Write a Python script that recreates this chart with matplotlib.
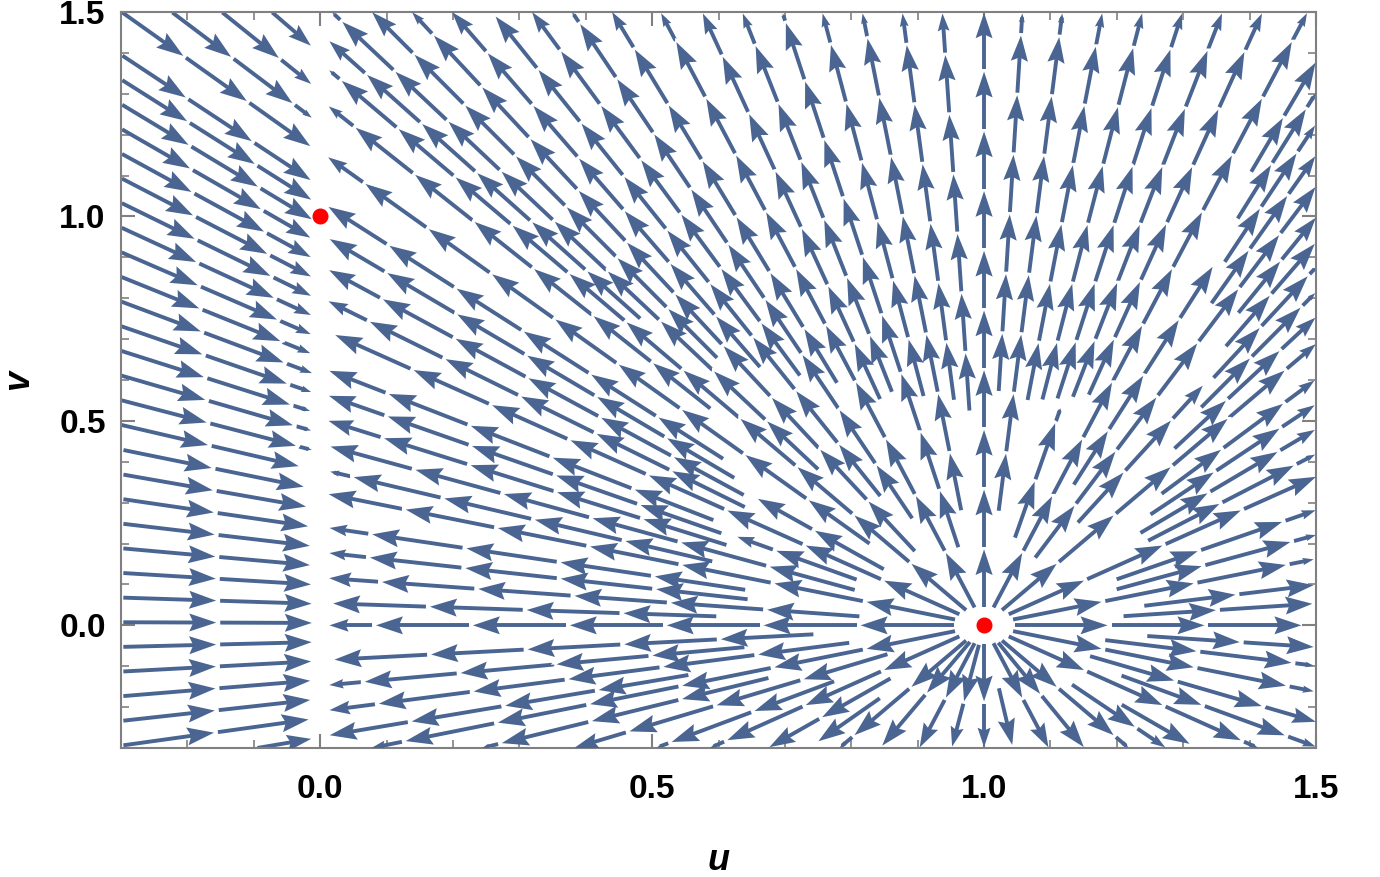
import numpy as np
import matplotlib
matplotlib.use('Agg')
import matplotlib.pyplot as plt
from matplotlib.collections import LineCollection, PolyCollection
from matplotlib.ticker import MultipleLocator

plt.rcParams['font.family'] = ['Liberation Sans', 'DejaVu Sans']

# plot window and ticks
u_range = [-0.3, 1.5]
v_range = [-0.3, 1.5]
tick_vals = [0.0, 0.5, 1.0, 1.5]
tick_labels = ['0.0', '0.5', '1.0', '1.5']

# equilibria marked in red
fixed_u = [0.0, 1.0]
fixed_v = [1.0, 0.0]

stream_color = '#4a6591'
frame_color = '#808080'


# direction field of the system
def field(u, v):
    return u * (u - 1.0), u * v


def direction(p):
    du, dv = field(p[0], p[1])
    n = np.hypot(du, dv)
    if n < 1e-12:
        return None
    return np.array([du, dv]) / n


# ---- evenly spaced stream lines (seed spacing dsep, lines stop at dtest) ----
src = np.array([fixed_u[1], fixed_v[1]])   # the source node
dsep = 0.048
dtest = 0.022
step = 0.004
hcell = 0.05
grid = {}


def near_other(p, dist):
    i, j = int(np.floor(p[0] / hcell)), int(np.floor(p[1] / hcell))
    for a in (i - 1, i, i + 1):
        for b in (j - 1, j, j + 1):
            for q in grid.get((a, b), ()):
                if (q[0] - p[0]) ** 2 + (q[1] - p[1]) ** 2 < dist * dist:
                    return True
    return False


def add_line(line):
    for p in line:
        key = (int(np.floor(p[0] / hcell)), int(np.floor(p[1] / hcell)))
        grid.setdefault(key, []).append(p)


def stop_here(p):
    if not (u_range[0] <= p[0] <= u_range[1] and v_range[0] <= p[1] <= v_range[1]):
        return True
    if abs(p[0]) < 0.012:
        return True
    if np.hypot(*(p - src)) < 0.045:
        return True
    return False


def integrate(p0, sign):
    pts = []
    p = np.array(p0, float)
    for _ in range(4000):
        d = direction(p)
        if d is None:
            break
        d2 = direction(p + 0.5 * step * sign * d)
        if d2 is None:
            break
        q = p + step * sign * d2
        if stop_here(q):
            break
        if np.hypot(*(q - src)) > 0.15 and near_other(q, dtest):
            break
        pts.append(q)
        p = q
    return pts


# seeds: a ring round the source first, then a grid from the edges inwards
ring = [tuple(src + 0.17 * np.array([np.cos(a), np.sin(a)]))
        for a in np.linspace(0, 2 * np.pi, 20, endpoint=False)]
sstep = 0.015
seed_u = np.arange(u_range[0] + sstep / 2, u_range[1], sstep)
seed_v = np.arange(v_range[0] + sstep / 2, v_range[1], sstep)
seeds = [(a, b) for a in seed_u for b in seed_v]
edge_dist = [min(a - u_range[0], u_range[1] - a, b - v_range[0], v_range[1] - b) for a, b in seeds]
seeds = [seeds[k] for k in np.argsort(edge_dist, kind='stable')]

trajs = []


def try_seed(sd, sep):
    p0 = np.array(sd)
    if stop_here(p0):
        return
    if sep > 0 and near_other(p0, sep):
        return
    fwd = integrate(p0, 1.0)
    bwd = integrate(p0, -1.0)
    line = np.array(bwd[::-1] + [p0] + fwd)
    if len(line) * step < 0.06:
        return
    add_line(line)
    trajs.append(line)


for sd in ring:
    try_seed(sd, 0)
for sd in seeds:
    try_seed(sd, dsep)
# second pass fills the wider gaps left between diverging lines
for sd in seeds:
    try_seed(sd, 0.04)

fig = plt.figure(figsize=(13.8, 8.77), dpi=100)
ax = fig.add_axes([121 / 1380, 1 - 748 / 877, 1195 / 1380, 736 / 877])
ax.set_xlim(u_range)
ax.set_ylim(v_range)

to_px = ax.transData.transform
to_data = ax.transData.inverted().transform

piece_len = 0.14   # data units
gap = 0.006
head_len = 27.0    # px
head_w = 9.0       # px half width

shafts = []
heads = []
for tr in trajs:
    d = np.hypot(np.diff(tr[:, 0]), np.diff(tr[:, 1]))
    s = np.concatenate([[0], np.cumsum(d)])
    total = s[-1]
    start = 0.0
    while start < total - 0.015:
        end = min(start + piece_len, total)
        ss = np.concatenate([[start], s[(s > start) & (s < end)], [end]])
        pts = np.column_stack([np.interp(ss, s, tr[:, 0]), np.interp(ss, s, tr[:, 1])])
        px = to_px(pts)
        tip = px[-1]
        back = to_px([[np.interp(end - 0.02, s, tr[:, 0]), np.interp(end - 0.02, s, tr[:, 1])]])[0]
        dvec = tip - back
        nrm = np.hypot(*dvec)
        if nrm > 0:
            dvec = dvec / nrm
            perp = np.array([-dvec[1], dvec[0]])
            plen = np.sum(np.hypot(np.diff(px[:, 0]), np.diff(px[:, 1])))
            hl = min(head_len, 0.45 * plen)
            hw = head_w * hl / head_len
            head = np.array([tip,
                             tip - dvec * hl + perp * hw,
                             tip - dvec * hl * 0.85,
                             tip - dvec * hl - perp * hw])
            heads.append(to_data(head))
            keep = np.dot(px - tip, dvec) < -hl * 0.5
            shaft = px[keep]
            if len(shaft) >= 1:
                shaft = np.vstack([shaft, tip - dvec * hl * 0.6])
                shafts.append(to_data(shaft))
        start = end + gap

ax.add_collection(LineCollection(shafts, colors=stream_color, linewidths=2.8,
                                 capstyle='butt', zorder=2))
ax.add_collection(PolyCollection(heads, facecolors=stream_color, edgecolors='none',
                                 zorder=3))

ax.plot(fixed_u, fixed_v, 'o', color='red', markersize=10.5, zorder=5)

# frame and ticks
for sp_ in ax.spines.values():
    sp_.set_color(frame_color)
    sp_.set_linewidth(1.5)
ax.set_xticks(tick_vals)
ax.set_xticklabels(tick_labels)
ax.set_yticks(tick_vals)
ax.set_yticklabels(tick_labels)
ax.xaxis.set_minor_locator(MultipleLocator(0.1))
ax.yaxis.set_minor_locator(MultipleLocator(0.1))
ax.tick_params(which='both', direction='in', top=True, right=True, color=frame_color)
ax.tick_params(which='major', length=10, width=1.5)
ax.tick_params(which='minor', length=6, width=1.2)
ax.tick_params(axis='x', which='major', labelsize=24, pad=19)
ax.tick_params(axis='y', which='major', labelsize=24, pad=11)
for lab in ax.get_xticklabels() + ax.get_yticklabels():
    lab.set_fontweight('bold')

ax.set_xlabel('u', fontsize=26, fontweight='bold', fontstyle='italic', labelpad=27)
ax.set_ylabel('v', fontsize=26, fontweight='bold', fontstyle='italic', labelpad=17)

fig.savefig('out.png', dpi=100)
